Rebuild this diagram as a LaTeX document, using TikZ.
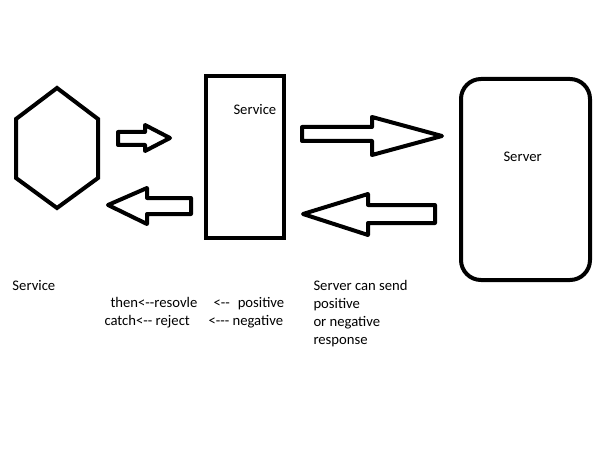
\documentclass[tikz,border=0pt]{standalone}
\usepackage{fontspec}
\setmainfont{Carlito}
\newcommand\hy{-\kern0pt}
\begin{document}
\begin{tikzpicture}[x=1pt,y=-1pt,line width=4pt,
  lbl/.style={font=\fontsize{14.67}{18}\selectfont, inner sep=0pt, anchor=base west},
  blk/.style={draw, line width=4pt, line join=round},
  box/.style={draw, line width=4pt, inner sep=0pt}]
\useasboundingbox[fill=white] (0,0) rectangle (614,460);
% hexagon
\coordinate (h1) at (57,88);
\coordinate (h2) at (98,119);
\coordinate (h3) at (98,178);
\coordinate (h4) at (57,208);
\coordinate (h5) at (16,178);
\coordinate (h6) at (16,119);
\draw[line join=miter] (h1) -- (h2) -- (h3) -- (h4) -- (h5) -- (h6) -- cycle;
% service box
\node[box, minimum width=78pt, minimum height=162pt] (svc) at (245,157) {};
\node[lbl] (svct) at (231.5,115) {Service};
% server box
\node[box, rounded corners=20pt, minimum width=129pt, minimum height=201pt] (srv) at (525.5,179.5) {};
\node[lbl] (srvt) at (501.5,161) {Server};
% block arrows
\draw[blk] (118,132) -- (145,132) -- (145,125) -- (170,138) -- (145,151) -- (145,145) -- (118,145) -- cycle;
\draw[blk] (191,198) -- (147,198) -- (147,188) -- (108,205) -- (147,224) -- (147,214) -- (191,214) -- cycle;
\draw[blk] (302,127) -- (372,127) -- (372,117) -- (442,136) -- (372,155) -- (372,141) -- (302,141) -- cycle;
\draw[blk] (435,205) -- (368,205) -- (368,194) -- (303,214) -- (368,235) -- (368,223) -- (435,223) -- cycle;
% labels
\node[lbl] (l1) at (10.5,290) {Service};
\node[lbl] (l2) at (108.5,307.5) {then<\hy-resovle};
\node[lbl] (l3) at (211.5,307.5) {<\hy-\hspace{8pt}positive};
\node[lbl] (l4) at (102.5,325.7) {catch<\hy- reject};
\node[lbl] (l5) at (206.5,325.7) {<\hy\hy- negative};
\node[lbl] (r1) at (311.5,290) {Server can send};
\node[lbl] (r2) at (311.5,308) {positive};
\node[lbl] (r3) at (311.5,326) {or negative};
\node[lbl] (r4) at (311.5,344) {response};
\end{tikzpicture}
\end{document}
